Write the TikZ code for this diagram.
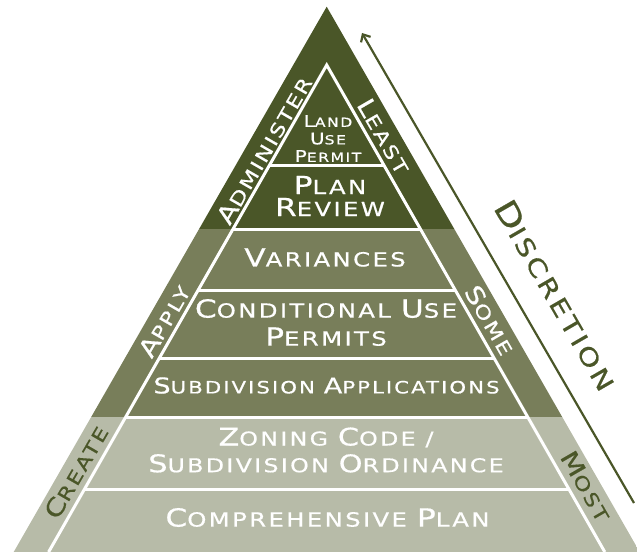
\documentclass[tikz,border=0pt]{standalone}
\usepackage{fontspec}
\usepackage{graphicx}
\usetikzlibrary{calc}
\usetikzlibrary{arrows.meta}

\newfontfamily\pyrfont[FakeStretch=1.25,LetterSpace=12,FakeBold=0.6]{DejaVu Sans}
\definecolor{darkolive}{RGB}{74,86,40}
\definecolor{midolive}{RGB}{120,126,90}
\definecolor{paleolive}{RGB}{183,187,168}
\newcommand\firstcap[1]{\scalebox{1.28}{#1}}

\tikzset{
    tier/.style={text=white, align=center, inner sep=0pt},
    side/.style={inner sep=0pt, font=\pyrfont\fontsize{18.5}{18.5}\selectfont},
    divider/.style={white, line width=3pt},
}

\begin{document}
\begin{tikzpicture}[x=1pt,y=-1pt]
    \useasboundingbox (0,0) rectangle (637,552);
    % Outer pyramid, three bands
    \coordinate (top) at (326.7,6.7);
    \coordinate (botleft) at (13.7,552);
    \coordinate (botright) at (639.7,552);
    \begin{scope}
        \clip (top) -- (botleft) -- (botright) -- cycle;
        \fill[darkolive] (0,0) rectangle (637,229);
        \fill[midolive] (0,229) rectangle (637,417);
        \fill[paleolive] (0,417) rectangle (637,552);
    \end{scope}

    % Inner pyramid and its levels
    \coordinate (apex) at (326.7,65);
    \coordinate (inleft) at (48.6,552);
    \coordinate (inright) at (604.8,552);
    \draw[divider] (inleft) -- (apex) -- (inright);
    \foreach \y in {165,229,290,358,417,489}
        \draw[divider] ($(apex)!{(\y-65)/487}!(inleft)$) -- ($(apex)!{(\y-65)/487}!(inright)$);

    \node[tier, font=\pyrfont\fontsize{12.5}{17.5}\selectfont] (landuse) at (328,138.5)
        {\firstcap{L}AND\\\firstcap{U}SE\\\firstcap{P}ERMIT};
    \node[tier, font=\pyrfont\fontsize{19.5}{22}\selectfont] (planreview) at (330,196)
        {\firstcap{P}LAN\\\firstcap{R}EVIEW};
    \node[tier, font=\pyrfont\fontsize{19.5}{22}\selectfont] (variances) at (325,257.5)
        {\firstcap{V}ARIANCES};
    \node[tier, font=\pyrfont\fontsize{19.5}{28}\selectfont] (conditional) at (326,322.5)
        {\firstcap{C}ONDITIONAL \firstcap{U}SE\\\firstcap{P}ERMITS};
    \node[tier, font=\pyrfont\fontsize{17}{20}\selectfont] (subdivapp) at (326.5,385.5)
        {\firstcap{S}UBDIVISION \firstcap{A}PPLICATIONS};
    \node[tier, font=\pyrfont\fontsize{19}{26.7}\selectfont] (zoning) at (326,450)
        {\firstcap{Z}ONING \firstcap{C}ODE /\\\firstcap{S}UBDIVISION \firstcap{O}RDINANCE};
    \node[tier, font=\pyrfont\fontsize{19.5}{22}\selectfont] (comprehensive) at (327.5,517.5)
        {\firstcap{C}OMPREHENSIVE \firstcap{P}LAN};

    % Side labels
    \node[side, white, rotate=60] (administer) at (264,150) {\firstcap{A}DMINISTER};
    \node[side, white, rotate=-60] (least) at (384,136) {\firstcap{L}EAST};
    \node[side, white, rotate=60] (apply) at (164,321) {\firstcap{A}PPLY};
    \node[side, white, rotate=-60] (some) at (490,320) {\firstcap{S}OME};
    \node[side, darkolive, rotate=60] (create) at (76,472) {\firstcap{C}REATE};
    \node[side, darkolive, rotate=-60] (most) at (586,486) {\firstcap{M}OST};

    % Discretion arrow
    \coordinate (arrowfoot) at (634,503);
    \coordinate (arrowtip) at (362,33);
    \draw[darkolive, line width=2.2pt, -{Straight Barb[length=6pt,width=11pt]}] (arrowfoot) -- (arrowtip);
    \node[side, darkolive, rotate=-60, font=\pyrfont\fontsize{24}{24}\selectfont] (discretion) at (556,295)
        {\firstcap{D}ISCRETION};
\end{tikzpicture}
\end{document}
